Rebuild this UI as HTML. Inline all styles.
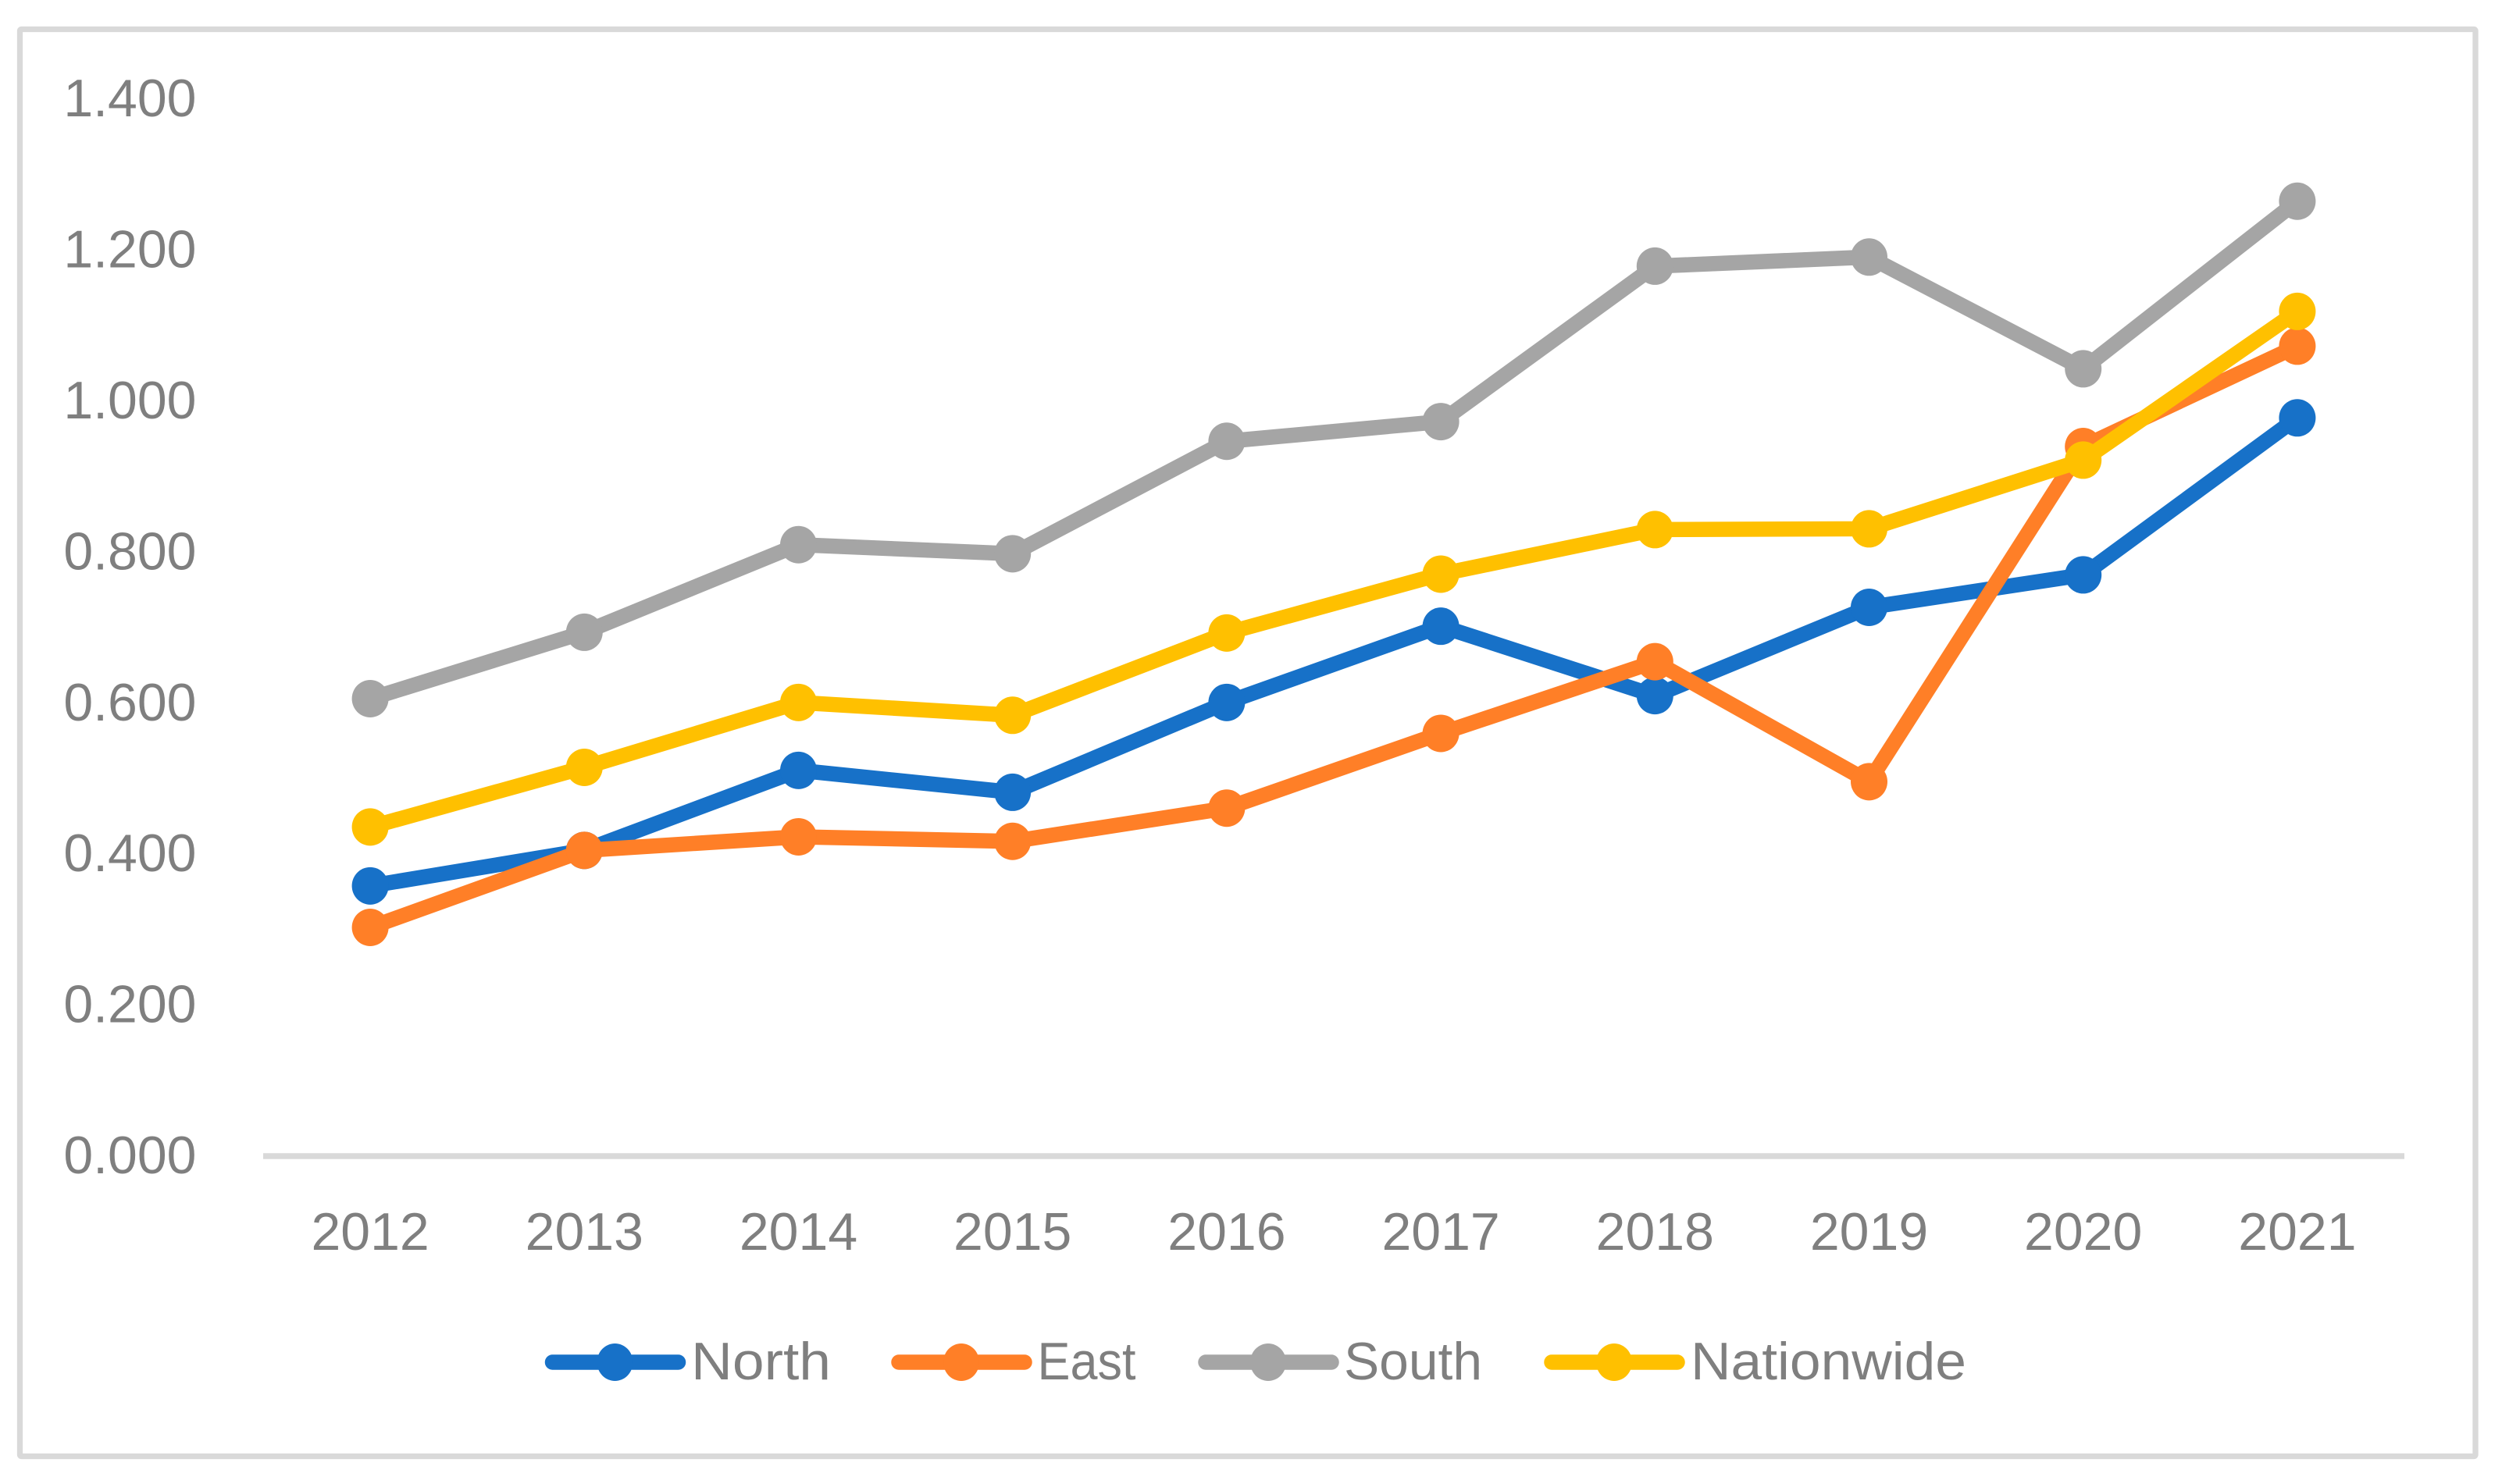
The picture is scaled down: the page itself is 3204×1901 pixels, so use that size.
<!DOCTYPE html>
<html lang="en">
<head>
<meta charset="utf-8">
<title>Regional index line chart, 2012–2021</title>
<style>
  html, body { margin: 0; padding: 0; background: #fff; }
  body { width: 3204px; height: 1901px; overflow: hidden; }
  svg { display: block; }
  text { font-family: "Liberation Sans", sans-serif; font-size: 68px; fill: #7f7f7f; }
</style>
</head>
<body>
<svg id="chart" xmlns="http://www.w3.org/2000/svg" width="3204" height="1901" viewBox="0 0 3204 1901">
  <rect x="0" y="0" width="3204" height="1901" fill="#ffffff"/>
  <rect x="25.5" y="37.5" width="3144.5" height="1828" rx="2" fill="none" stroke="#d9d9d9" stroke-width="7.3"/>
  <g id="y-axis"></g>
  <g id="x-axis"></g>
  <g id="plot"></g>
  <g>
    <g>
      <line x1="707.5" y1="1745" x2="868.5" y2="1745" stroke="#1771c8" stroke-width="19.5" stroke-linecap="round"/>
      <ellipse cx="787.5" cy="1745" rx="23" ry="24" fill="#1771c8"/>
      <text x="885" y="1767" textLength="179" lengthAdjust="spacingAndGlyphs">North</text>
    </g>
    <g>
      <line x1="1151" y1="1745" x2="1312" y2="1745" stroke="#ff7f27" stroke-width="19.5" stroke-linecap="round"/>
      <ellipse cx="1231" cy="1745" rx="23" ry="24" fill="#ff7f27"/>
      <text x="1328.5" y="1767" textLength="126" lengthAdjust="spacingAndGlyphs">East</text>
    </g>
    <g>
      <line x1="1544" y1="1745" x2="1705" y2="1745" stroke="#a5a5a5" stroke-width="19.5" stroke-linecap="round"/>
      <ellipse cx="1624" cy="1745" rx="23" ry="24" fill="#a5a5a5"/>
      <text x="1721" y="1767" textLength="177" lengthAdjust="spacingAndGlyphs">South</text>
    </g>
    <g>
      <line x1="1987" y1="1745" x2="2148" y2="1745" stroke="#ffc000" stroke-width="19.5" stroke-linecap="round"/>
      <ellipse cx="2067" cy="1745" rx="23" ry="24" fill="#ffc000"/>
      <text x="2165" y="1767" textLength="353" lengthAdjust="spacingAndGlyphs">Nationwide</text>
    </g>
  </g>
</svg>
<script>
const categories = ['2012', '2013', '2014', '2015', '2016', '2017', '2018', '2019', '2020', '2021'];
const yTickLabels = ['0.000', '0.200', '0.400', '0.600', '0.800', '1.000', '1.200', '1.400'];
const north = [0.358, 0.405, 0.511, 0.482, 0.601, 0.702, 0.610, 0.727, 0.770, 0.978];
const east = [0.303, 0.405, 0.423, 0.417, 0.461, 0.560, 0.655, 0.496, 0.940, 1.073];
const south = [0.606, 0.694, 0.810, 0.798, 0.947, 0.973, 1.179, 1.191, 1.043, 1.265];
const nationwide = [0.436, 0.515, 0.601, 0.584, 0.693, 0.771, 0.830, 0.831, 0.922, 1.119];

const NS = 'http://www.w3.org/2000/svg';
const axisLeft = 337;
const axisRight = 3079;
const axisZeroY = 1481;
const pxPerUnit = 967;

function xScale(index) {
  const band = (axisRight - axisLeft) / categories.length;
  return axisLeft + band * (index + 0.5);
}
function yScale(value) {
  return axisZeroY - value * pxPerUnit;
}

const yAxisGroup = document.getElementById('y-axis');
yTickLabels.forEach(function (label) {
  const t = document.createElementNS(NS, 'text');
  
  
  t.setAttribute('x', 251.5);
  t.setAttribute('y', yScale(parseFloat(label)) + 22);
  t.setAttribute('text-anchor', 'end');
  t.textContent = label;
  yAxisGroup.appendChild(t);
});

const xAxisGroup = document.getElementById('x-axis');
const axisLine = document.createElementNS(NS, 'line');


axisLine.setAttribute('x1', axisLeft);
axisLine.setAttribute('x2', axisRight);
axisLine.setAttribute('y1', axisZeroY);
axisLine.setAttribute('y2', axisZeroY);
axisLine.setAttribute('stroke', '#d9d9d9');
axisLine.setAttribute('stroke-width', '7.5');
xAxisGroup.appendChild(axisLine);
categories.forEach(function (label, i) {
  const t = document.createElementNS(NS, 'text');
  
  
  t.setAttribute('x', xScale(i));
  t.setAttribute('y', 1601);
  t.setAttribute('text-anchor', 'middle');
  t.textContent = label;
  xAxisGroup.appendChild(t);
});

const plot = document.getElementById('plot');
function drawSeries(seriesName, values, color) {
  const line = document.createElementNS(NS, 'polyline');
  
  
  line.setAttribute('points', values.map(function (v, i) {
    return xScale(i) + ',' + yScale(v);
  }).join(' '));
  line.setAttribute('fill', 'none');
  line.setAttribute('stroke', color);
  line.setAttribute('stroke-width', '19.5');
  line.setAttribute('stroke-linejoin', 'round');
  line.setAttribute('stroke-linecap', 'round');
  plot.appendChild(line);
  values.forEach(function (v, i) {
    const dot = document.createElementNS(NS, 'ellipse');
    
    
    dot.setAttribute('cx', xScale(i));
    dot.setAttribute('cy', yScale(v));
    dot.setAttribute('rx', 23.5);
    dot.setAttribute('ry', 24);
    dot.setAttribute('fill', color);
    plot.appendChild(dot);
  });
}
drawSeries('north', north, '#1771c8');
drawSeries('east', east, '#ff7f27');
drawSeries('south', south, '#a5a5a5');
drawSeries('nationwide', nationwide, '#ffc000');
</script>
</body>
</html>
